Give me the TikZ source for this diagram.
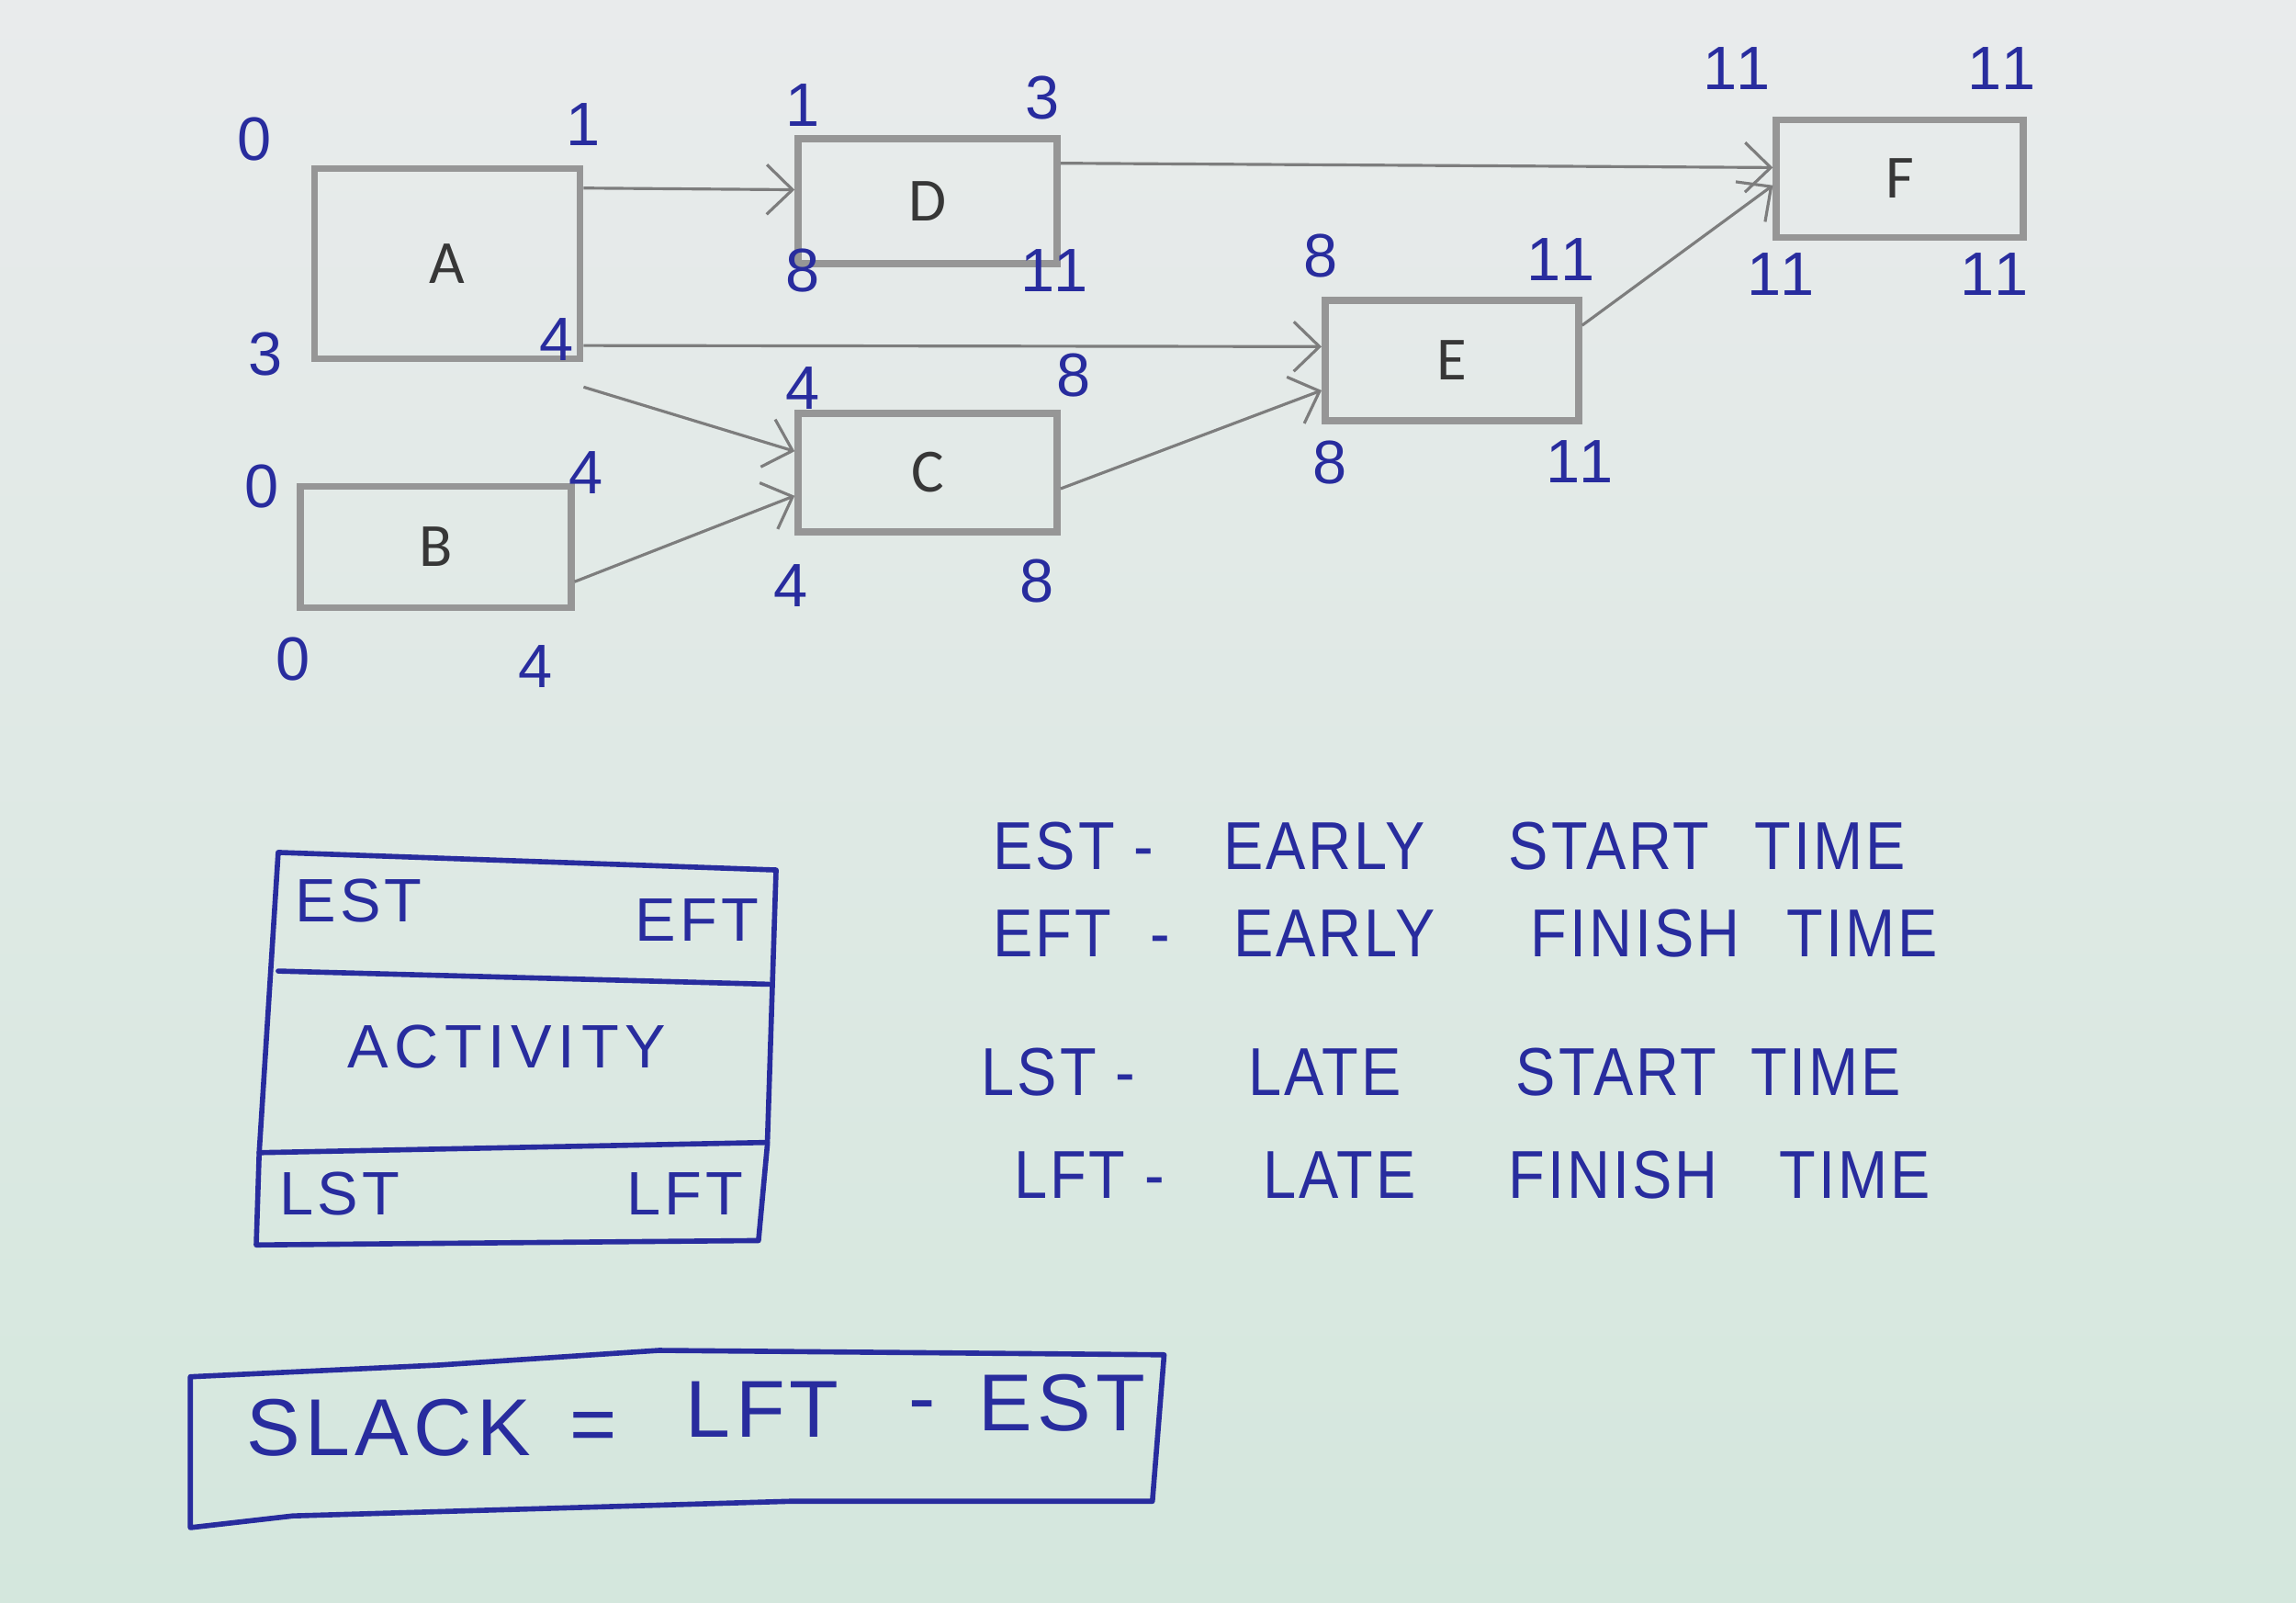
\documentclass[tikz,border=0pt]{standalone}
\usepackage{fontspec}
\setmainfont{Liberation Sans}
\newfontfamily\hand[LetterSpace=6]{Liberation Sans}
\newfontfamily\handn[LetterSpace=4,FakeStretch=0.88]{Liberation Sans}
\newfontfamily\print{Carlito}
\usetikzlibrary{positioning,arrows.meta}
\definecolor{pen}{RGB}{40,44,158}
\definecolor{paperTop}{RGB}{233,235,236}
\definecolor{paperBot}{RGB}{212,231,221}
\definecolor{boxgray}{RGB}{150,150,150}
\definecolor{arrowgray}{RGB}{125,125,125}
\definecolor{lettergray}{RGB}{55,55,55}

\begin{document}
\begin{tikzpicture}[x=0.015944cm,y=-0.015944cm,
  act/.style={draw=boxgray,line width=2.2pt,font=\print\fontsize{19}{19}\selectfont,text=lettergray},
  arr/.style={draw=arrowgray,line width=0.9pt,-{Straight Barb[length=2.8mm,width=5.4mm]}},
  num/.style={font=\hand\fontsize{19}{19}\selectfont,text=pen,inner sep=0pt},
  hw/.style={font=\handn\fontsize{21}{21}\selectfont,text=pen,inner sep=0pt,anchor=west},
  big/.style={font=\hand\fontsize{25}{25}\selectfont,text=pen,inner sep=0pt},
  penline/.style={draw=pen,line width=1.6pt,line join=round,line cap=round},
]
\fill[top color=paperTop,bottom color=paperBot] (0,0) rectangle (1568,1094);

% activities
\node[act,minimum width=2.89cm,minimum height=2.07cm] (A) at (305.5,180)   {A};
\node[act,minimum width=2.82cm,minimum height=1.36cm] (D) at (633.5,137.5) {D};
\node[act,minimum width=2.69cm,minimum height=1.28cm] (F) at (1297.5,122)  {F};
\node[act,minimum width=2.76cm,minimum height=1.31cm] (E) at (991.5,246)   {E};
\node[act,minimum width=2.82cm,minimum height=1.29cm] (C) at (633.5,322.5) {C};
\node[act,minimum width=2.95cm,minimum height=1.32cm] (B) at (297.5,373.5) {B};

\draw[arr] (A.29)  -- (D.175);
\draw[arr] (D.16)  -- (F.175);
\draw[arr] (A.-31) -- (E.174);
\draw[arr] ([yshift=-0.27cm]A.south east) -- (C.171);
\draw[arr] (B.-14) -- (C.190);
\draw[arr] (C.-7)  -- (E.193);
\draw[arr] (E.15)  -- (F.183);

% times
\node[num] (A-es) at (174,95)  {0};
\node[num] (A-ef) at (398,85)  {1};
\node[num] (A-ls) at (181,242) {3};
\node[num] (A-lf) at (380,232) {4};
\node[num] (D-es) at (548,72)  {1};
\node[num] (D-ef) at (712,67)  {3};
\node[num] (D-ls) at (548,185) {8};
\node[num] (D-lf) at (720,185) {11};
\node[num] (F-es) at (1186,47)  {11};
\node[num] (F-ef) at (1367,47)  {11};
\node[num] (F-ls) at (1216,187) {11};
\node[num] (F-lf) at (1362,187) {11};
\node[num] (E-es) at (902,175)  {8};
\node[num] (E-ef) at (1066,177) {11};
\node[num] (E-ls) at (908,316)  {8};
\node[num] (E-lf) at (1079,315) {11};
\node[num] (C-es) at (548,265) {4};
\node[num] (C-ef) at (733,256) {8};
\node[num] (C-ls) at (540,400) {4};
\node[num] (C-lf) at (708,397) {8};
\node[num] (B-es) at (179,332) {0};
\node[num] (B-ef) at (400,323) {4};
\node[num] (B-ls) at (200,450) {0};
\node[num] (B-lf) at (366,455) {4};

% legend box
\draw[penline] (190,582) -- (530,594) -- (524,782) -- (518,847) -- (175,850) -- (177,787) -- cycle;
\draw[penline] (190,663) -- (525,672);
\draw[penline] (177,787) -- (524,780);
\node[num] (est) at (245,615) {EST};
\node[num] (eft) at (476,628) {EFT};
\node[num,font=\hand\fontsize{19}{19}\selectfont\addfontfeature{LetterSpace=10}] (activity) at (346,715) {ACTIVITY};
\node[num] (lst) at (232,815) {LST};
\node[num] (lft) at (468,815) {LFT};

% definitions
\foreach \w/\x [count=\i] in {EST\ -/678,EARLY/835,START/1030,TIME/1198}
  \node[hw] (def1-\i) at (\x,578) {\w};
\foreach \w/\x [count=\i] in {EFT\ \ -/678,EARLY/842,FINISH/1045,TIME/1220}
  \node[hw] (def2-\i) at (\x,637) {\w};
\foreach \w/\x [count=\i] in {LST\ -/670,LATE/852,START/1035,TIME/1195}
  \node[hw] (def3-\i) at (\x,732) {\w};
\foreach \w/\x [count=\i] in {LFT\ -/692,LATE/862,FINISH/1030,TIME/1215}
  \node[hw] (def4-\i) at (\x,802) {\w};

% slack
\draw[penline] (130,940) -- (300,932) -- (450,922) -- (795,925) -- (787,1025) -- (540,1025) -- (200,1035) -- (130,1043) -- cycle;
\node[big,anchor=west] (slack) at (168,975) {SLACK};
\node[big] (eq) at (405,978) {=};
\node[big,anchor=west] (lft2) at (468,962) {LFT};
\node[big] (minus) at (630,965) {-};
\node[big,anchor=west] (est2) at (668,958) {EST};
\end{tikzpicture}
\end{document}
